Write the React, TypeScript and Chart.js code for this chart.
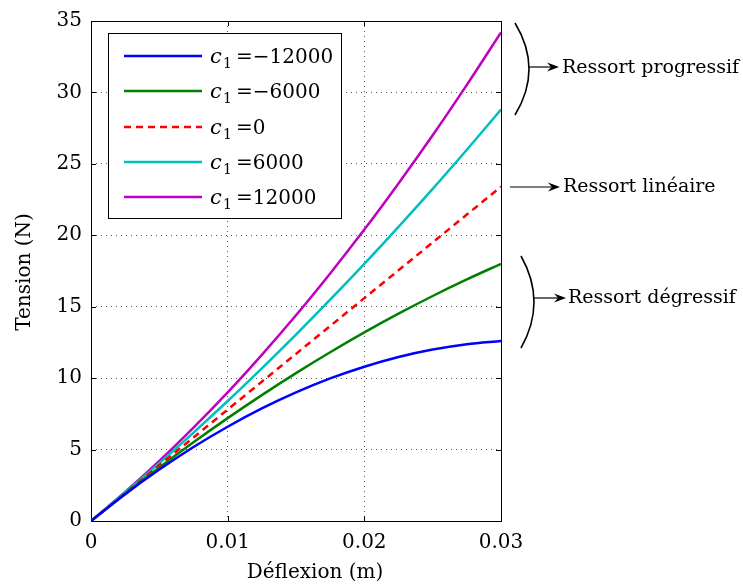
import React, { useEffect, useRef } from "react";
import { Chart, registerables } from "chart.js";

Chart.register(...registerables);

const deflexion = [0, 0.0025, 0.005, 0.0075, 0.01, 0.0125, 0.015, 0.0175, 0.02, 0.0225, 0.025, 0.0275, 0.03];
const tensionM12000 = [0, 1.88, 3.6, 5.18, 6.6, 7.88, 9.0, 9.98, 10.8, 11.48, 12.0, 12.38, 12.6];
const tensionM6000 = [0, 1.91, 3.75, 5.51, 7.2, 8.81, 10.35, 11.81, 13.2, 14.51, 15.75, 16.91, 18.0];
const tension0 = [0, 1.95, 3.9, 5.85, 7.8, 9.75, 11.7, 13.65, 15.6, 17.55, 19.5, 21.45, 23.4];
const tensionP6000 = [0, 1.99, 4.05, 6.19, 8.4, 10.69, 13.05, 15.49, 18.0, 20.59, 23.25, 25.99, 28.8];
const tensionP12000 = [0, 2.03, 4.2, 6.53, 9.0, 11.63, 14.4, 17.33, 20.4, 23.63, 27.0, 30.53, 34.2];

const legendValues = ["\u221212000", "\u22126000", "0", "6000", "12000"];
const seriesColors = ["#0000ff", "#008000", "#ff0000", "#00bfbf", "#bf00bf"];
const seriesData = [tensionM12000, tensionM6000, tension0, tensionP6000, tensionP12000];

const xTitle = "Déflexion (m)";
const yTitle = "Tension (N)";
const annotProgressif = "Ressort progressif";
const annotLineaire = "Ressort linéaire";
const annotDegressif = "Ressort dégressif";

const FONT = "'DejaVu Serif', serif";

function arrow(ctx: CanvasRenderingContext2D, x1: number, x2: number, y: number) {
  ctx.beginPath();
  ctx.moveTo(x1, y);
  ctx.lineTo(x2 - 6, y);
  ctx.stroke();
  ctx.beginPath();
  ctx.moveTo(x2, y);
  ctx.lineTo(x2 - 12, y - 4.5);
  ctx.lineTo(x2 - 8, y);
  ctx.lineTo(x2 - 12, y + 4.5);
  ctx.closePath();
  ctx.fill();
}

function brace(ctx: CanvasRenderingContext2D, x: number, y1: number, y2: number, bulge: number) {
  ctx.beginPath();
  ctx.moveTo(x, y1);
  ctx.quadraticCurveTo(x + bulge * 2, (y1 + y2) / 2, x, y2);
  ctx.stroke();
}

const decorPlugin = {
  id: "decor",
  beforeDatasetsDraw(chart: any) {
    const { ctx, chartArea: a } = chart;
    ctx.save();
    ctx.strokeStyle = "#000";
    ctx.lineWidth = 1;
    ctx.setLineDash([]);
    ctx.strokeRect(a.left + 0.5, a.top + 0.5, a.right - a.left, a.bottom - a.top);
    const xs = chart.scales.x;
    const ys = chart.scales.y;
    const tl = 5;
    ctx.beginPath();
    xs.ticks.forEach((t: any) => {
      const px = Math.round(xs.getPixelForValue(t.value)) + 0.5;
      ctx.moveTo(px, a.bottom);
      ctx.lineTo(px, a.bottom - tl);
      ctx.moveTo(px, a.top);
      ctx.lineTo(px, a.top + tl);
    });
    ys.ticks.forEach((t: any) => {
      const py = Math.round(ys.getPixelForValue(t.value)) + 0.5;
      ctx.moveTo(a.left, py);
      ctx.lineTo(a.left + tl, py);
      ctx.moveTo(a.right, py);
      ctx.lineTo(a.right - tl, py);
    });
    ctx.stroke();
    ctx.restore();
  },
  afterDraw(chart: any) {
    const { ctx } = chart;
    ctx.save();
    ctx.fillStyle = "#000";
    ctx.strokeStyle = "#000";
    // axis titles
    ctx.font = `20px ${FONT}`;
    ctx.textAlign = "center";
    ctx.textBaseline = "middle";
    ctx.fillText(xTitle, 315, 573);
    ctx.save();
    ctx.translate(25, 272);
    ctx.rotate(-Math.PI / 2);
    ctx.fillText(yTitle, 0, 0);
    ctx.restore();

    // legend
    const lx = 108.5, ly = 33.5, lw = 233, lh = 185;
    ctx.fillStyle = "#fff";
    ctx.fillRect(lx, ly, lw, lh);
    ctx.lineWidth = 1;
    ctx.strokeRect(lx, ly, lw, lh);
    const rows = [56, 91, 127, 162, 197];
    rows.forEach((ry, i) => {
      ctx.strokeStyle = seriesColors[i];
      ctx.lineWidth = 2.5;
      ctx.setLineDash(i === 2 ? [7, 5] : []);
      ctx.beginPath();
      ctx.moveTo(124, ry);
      ctx.lineTo(202, ry);
      ctx.stroke();
      ctx.setLineDash([]);
      ctx.fillStyle = "#000";
      ctx.textAlign = "left";
      ctx.textBaseline = "alphabetic";
      ctx.font = `italic 21px ${FONT}`;
      ctx.fillText("c", 210, ry + 7);
      ctx.font = `14px ${FONT}`;
      ctx.fillText("1", 223, ry + 12);
      ctx.font = `20px ${FONT}`;
      ctx.fillText("=" + legendValues[i], 236, ry + 7);
    });

    // annotations
    ctx.strokeStyle = "#000";
    ctx.fillStyle = "#000";
    ctx.lineWidth = 1.6;
    brace(ctx, 515, 23, 115, 14);
    ctx.lineWidth = 1.2;
    arrow(ctx, 529, 559, 67);
    ctx.lineWidth = 1.6;
    brace(ctx, 521, 256, 348, 13);
    ctx.lineWidth = 1.2;
    arrow(ctx, 534, 566, 298);
    arrow(ctx, 510, 560, 187);
    ctx.font = `19px ${FONT}`;
    ctx.textAlign = "left";
    ctx.textBaseline = "middle";
    ctx.fillText(annotProgressif, 562, 68);
    ctx.fillText(annotLineaire, 563, 187);
    ctx.fillText(annotDegressif, 568, 298);
    ctx.restore();
  },
};

export default function App() {
  const ref = useRef<HTMLCanvasElement | null>(null);
  useEffect(() => {
    if (!ref.current) return;
    const chart = new Chart(ref.current, {
      type: "line",
      data: {
        datasets: seriesData.map((ys, i) => ({
          label: "c1=" + legendValues[i],
          data: deflexion.map((x, j) => ({ x, y: ys[j] })),
          borderColor: seriesColors[i],
          backgroundColor: seriesColors[i],
          borderWidth: 2.5,
          borderDash: i === 2 ? [7, 5] : [],
          pointRadius: 0,
          cubicInterpolationMode: "monotone" as const,
          fill: false,
        })),
      },
      options: {
        animation: false,
        responsive: false,
        maintainAspectRatio: false,
        layout: { padding: { top: 18, right: 242, left: 0, bottom: 0 } },
        plugins: { legend: { display: false }, tooltip: { enabled: false } },
        scales: {
          x: {
            type: "linear",
            min: 0,
            max: 0.03,
            ticks: {
              stepSize: 0.01,
              color: "#000",
              font: { family: FONT, size: 20 },
              padding: 10,
              maxRotation: 0,
              callback: (v: any) => String(Number(Number(v).toFixed(4))),
            },
            grid: { color: "#555", lineWidth: 1, drawTicks: false },
            border: { display: false, dash: [1, 4] },
            afterFit: (s: any) => {
              s.height = 67;
            },
          },
          y: {
            type: "linear",
            min: 0,
            max: 35,
            ticks: {
              stepSize: 5,
              color: "#000",
              font: { family: FONT, size: 20 },
              padding: 9,
            },
            grid: { color: "#555", lineWidth: 1, drawTicks: false },
            border: { display: false, dash: [1, 4] },
            afterFit: (s: any) => {
              s.width = 91;
            },
          },
        },
      },
      plugins: [decorPlugin],
    });
    return () => chart.destroy();
  }, []);
  return (
    <div style={{ position: "fixed", left: 0, top: 0, width: 743, height: 588, background: "#fff" }}>
      <canvas ref={ref} width={743} height={588} style={{ width: 743, height: 588 }} />
    </div>
  );
}
